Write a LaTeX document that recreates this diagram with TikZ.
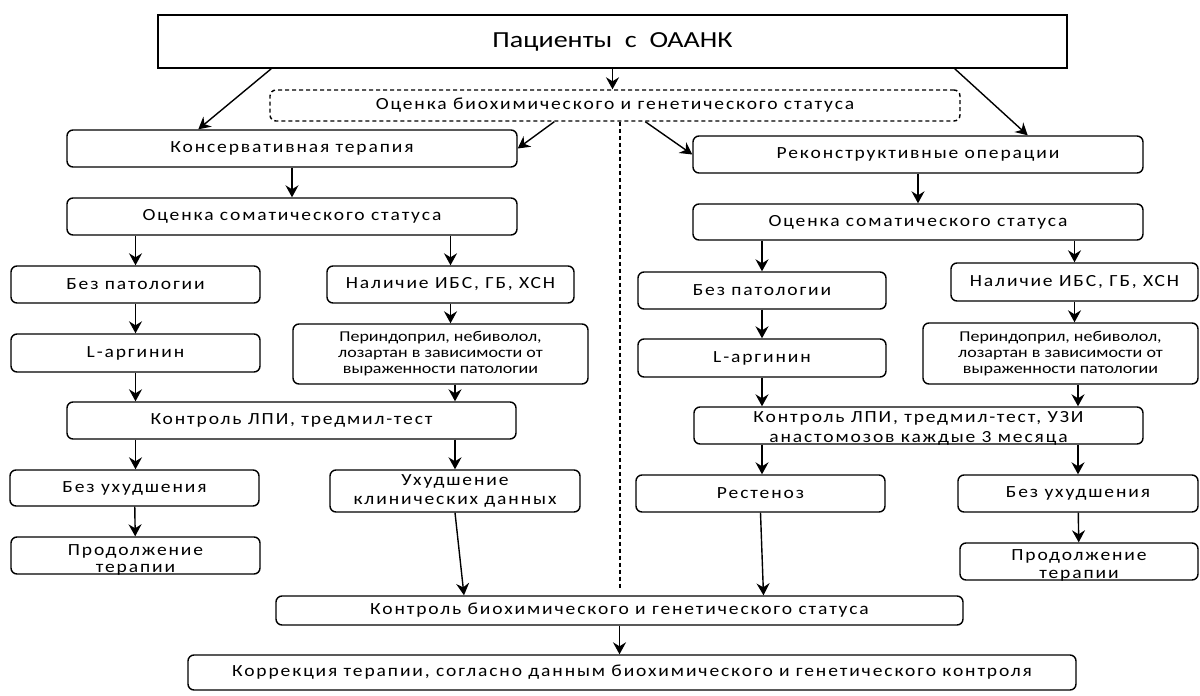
\documentclass[tikz,border=0pt]{standalone}
\usepackage{fontspec}
\setmainfont{Carlito}[FakeStretch=1.15,LetterSpace=11]
\newfontfamily\titlefont{Carlito}[FakeStretch=1.22]
\newfontfamily\notefont{Carlito}[FakeStretch=1.2]
\usetikzlibrary{arrows.meta,calc,positioning}
\newcommand\lowtext[2]{\raisebox{#1}[0pt][0pt]{\shortstack{#2}}}

\begin{document}
\begin{tikzpicture}[x=0.5pt,y=-0.5pt,
    blk/.style={draw,rounded corners=3pt,line width=0.7pt,align=center,
      inner sep=0pt,font=\fontsize{8.5}{9.5}\selectfont},
    sz/.style 2 args={minimum width=#1*0.5pt,minimum height=#2*0.5pt},
    small/.style={font=\notefont\fontsize{7.5}{8}\selectfont},
    arr/.style={-{Stealth[length=6pt,width=6.5pt,inset=2pt]},line width=0.7pt}]
  \path[fill=white] (0,0) rectangle (1200,696);

  \node[draw,line width=0.7pt,sz={909}{53},font=\titlefont\fontsize{11.5}{13}\selectfont]
    (pat) at (612.5,41.5) {Пациенты\ \ с\ \ ОААНК};
  \node[blk,dashed,dash pattern=on 2pt off 1.5pt,sz={690}{31}]
    (ocb) at (615,105.5) {Оценка биохимического и генетического статуса};

  % left branch
  \node[blk,sz={450}{37}] (kons) at (292,148.5) {Консервативная терапия};
  \node[blk,sz={450}{37}] (somL) at (292,216.5) {Оценка соматического статуса};
  \node[blk,sz={249}{37}] (bezL) at (135.5,284.5) {Без патологии};
  \node[blk,sz={247}{37}] (nalL) at (450.5,284.5) {Наличие ИБС, ГБ, ХСН};
  \node[blk,sz={249}{38}] (argL) at (135.5,353) {L-аргинин};
  \node[blk,small,sz={295}{60}] (perL) at (440.5,354)
    {Периндоприл, небиволол,\\лозартан в зависимости от\\выраженности патологии};
  \node[blk,sz={449}{37}] (ctlL) at (291.5,420.5) {Контроль ЛПИ, тредмил-тест};
  \node[blk,sz={249}{36}] (bezuL) at (134.5,488) {Без ухудшения};
  \node[blk,sz={250}{42}] (uxL) at (455,491) {Ухудшение\\клинических данных};
  \node[blk,sz={249}{37}] (prodL) at (135.5,555.5)
    {\lowtext{-8.5pt}{Продолжение\\терапии}};

  % right branch
  \node[blk,sz={450}{37}] (recon) at (918,154.5) {Реконструктивные операции};
  \node[blk,sz={450}{36}] (somR) at (918,222) {Оценка соматического статуса};
  \node[blk,sz={248}{37}] (bezR) at (762,290.5) {Без патологии};
  \node[blk,sz={247}{38}] (nalR) at (1074.5,282) {Наличие ИБС, ГБ, ХСН};
  \node[blk,sz={248}{38}] (argR) at (762,358) {L-аргинин};
  \node[blk,small,sz={275}{61}] (perR) at (1060.5,353.5)
    {Периндоприл, небиволол,\\лозартан в зависимости от\\выраженности патологии};
  \node[blk,sz={449}{37}] (ctlR) at (918.5,425.5)
    {\lowtext{-8.25pt}{Контроль ЛПИ, тредмил-тест, УЗИ\\анастомозов каждые 3 месяца}};
  \node[blk,sz={249}{37}] (resR) at (760.5,493.5) {Рестеноз};
  \node[blk,sz={240}{37}] (bezuR) at (1078,493.5) {Без ухудшения};
  \node[blk,sz={238}{37}] (prodR) at (1079,561.5)
    {\lowtext{-8.25pt}{Продолжение\\терапии}};

  % common end
  \node[blk,sz={687}{29}] (ctlB) at (619.5,610.5)
    {Контроль биохимического и генетического статуса};
  \node[blk,sz={888}{35}] (korr) at (632,672.5)
    {Коррекция терапии, согласно данным биохимического и генетического контроля};

  \coordinate (divend) at (620,588);
  \draw[line width=0.6pt,dash pattern=on 2pt off 1.5pt] (ocb.south -| divend) -- (divend);

  \draw[arr] ([xshift=57pt]pat.south west) -- ([xshift=66pt]kons.north west);
  \draw[arr] ([xshift=-56.5pt]pat.south east) -- ([xshift=-58pt]recon.north east);
  \draw[arr] (pat.south) -- (pat.south |- ocb.north);
  \draw[arr] ([xshift=142.5pt]ocb.south west) -- (kons.east);
  \draw[arr] ([xshift=188pt]ocb.south west) -- (recon.west);

  \draw[arr] (kons) -- (somL);
  \draw[arr] (somL.south -| bezL) -- (bezL);
  \draw[arr] (somL.south -| nalL) -- (nalL);
  \draw[arr] (bezL) -- (argL);
  \draw[arr] (nalL.south) -- (nalL.south |- perL.north);
  \draw[arr] (argL.south) -- (argL.south |- ctlL.north);
  \draw[arr] (perL.south -| uxL) -- (ctlL.north -| uxL);
  \draw[arr] (ctlL.south -| bezL) -- (bezuL.north -| bezL);
  \draw[arr] (ctlL.south -| uxL) -- (uxL);
  \draw[arr] (bezuL) -- (prodL);
  \draw[arr] (uxL.south) -- ([xshift=4.5pt]uxL.south |- ctlB.north);

  \draw[arr] (recon) -- (somR);
  \draw[arr] (somR.south -| bezR) -- (bezR);
  \draw[arr] (somR.south -| nalR) -- (nalR);
  \draw[arr] (bezR) -- (argR);
  \draw[arr] (nalR.south) -- (nalR.south |- perR.north);
  \draw[arr] (argR.south) -- (argR.south |- ctlR.north);
  \draw[arr] (perR.south -| bezuR) -- (ctlR.north -| bezuR);
  \draw[arr] (ctlR.south -| argR) -- (resR.north -| argR);
  \draw[arr] (ctlR.south -| bezuR) -- (bezuR);
  \draw[arr] (bezuR) -- (prodR);
  \draw[arr] (resR.south) -- ([xshift=1.5pt]resR.south |- ctlB.north);

  \draw[arr] (ctlB.south) -- (ctlB.south |- korr.north);
\end{tikzpicture}
\end{document}
